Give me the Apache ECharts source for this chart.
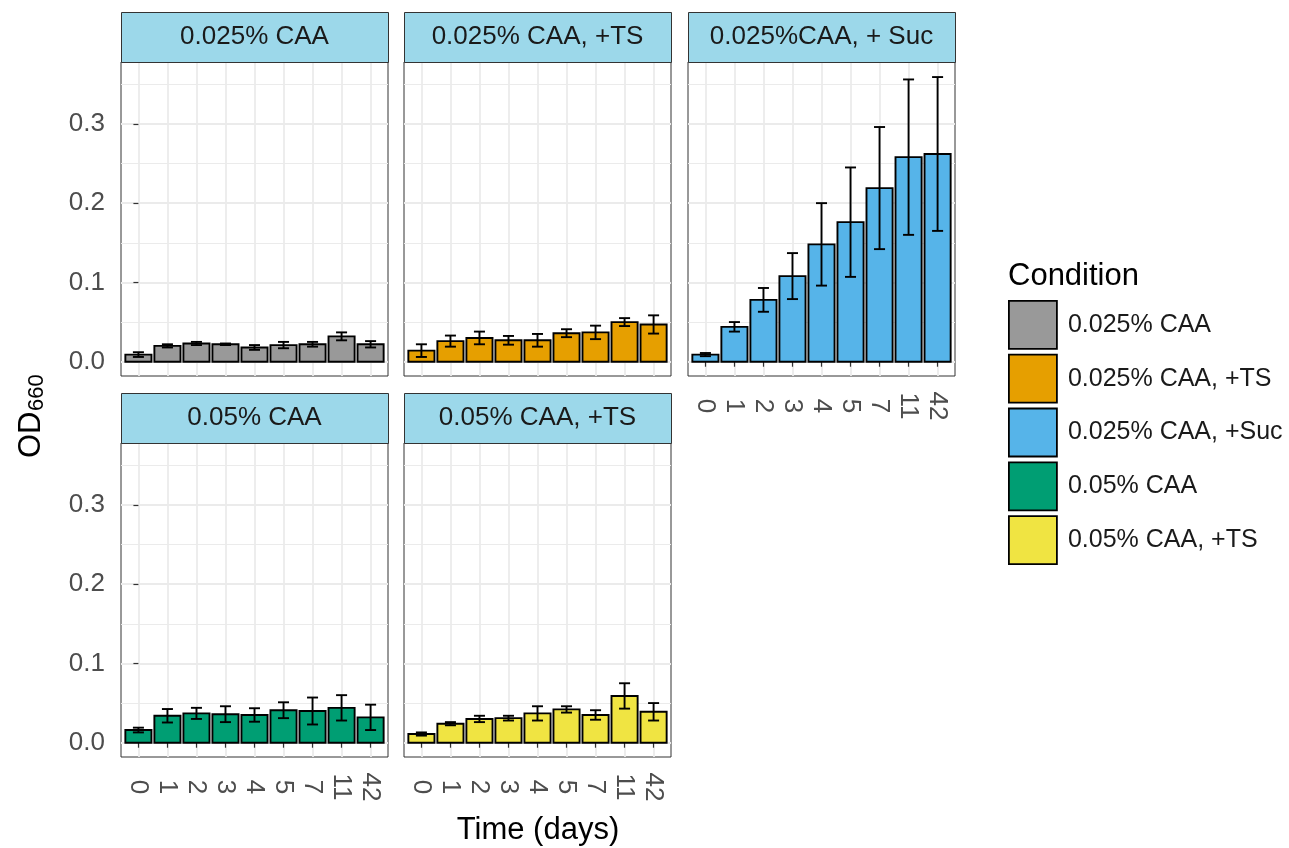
<!DOCTYPE html>
<html>
<head>
<meta charset="utf-8">
<script src="https://cdn.jsdelivr.net/npm/echarts@6/dist/echarts.min.js"></script>
<style>
  html, body { margin: 0; padding: 0; background: #ffffff; }
  #chart { width: 1289px; height: 848px; }
</style>
</head>
<body>
<div id="chart"></div>
<script>
// ---- data -------------------------------------------------------------
const days = ['0', '1', '2', '3', '4', '5', '7', '11', '42'];
const conditions = ['0.025% CAA', '0.025% CAA, +TS', '0.025% CAA, +Suc', '0.05% CAA', '0.05% CAA, +TS'];
const stripLabels = ['0.025% CAA', '0.025% CAA, +TS', '0.025%CAA, + Suc', '0.05% CAA', '0.05% CAA, +TS'];
const yTicks = [0, 0.1, 0.2, 0.3];
const yMinorTicks = [0.05, 0.15, 0.25, 0.35];

// mean OD660 and standard deviation per sampling day
const caa025Mean    = [0.009, 0.020, 0.023, 0.022, 0.018, 0.021, 0.022, 0.032, 0.022];
const caa025Sd      = [0.003, 0.002, 0.002, 0.001, 0.003, 0.004, 0.003, 0.005, 0.004];
const caa025TsMean  = [0.014, 0.026, 0.030, 0.027, 0.027, 0.036, 0.037, 0.050, 0.047];
const caa025TsSd    = [0.008, 0.007, 0.008, 0.0055, 0.008, 0.005, 0.0085, 0.005, 0.0115];
const caa025SucMean = [0.009, 0.044, 0.078, 0.108, 0.148, 0.176, 0.219, 0.258, 0.262];
const caa025SucSd   = [0.002, 0.006, 0.015, 0.029, 0.052, 0.069, 0.077, 0.098, 0.097];
const caa05Mean     = [0.016, 0.034, 0.037, 0.036, 0.035, 0.041, 0.040, 0.044, 0.032];
const caa05Sd       = [0.003, 0.0085, 0.007, 0.010, 0.0085, 0.010, 0.017, 0.016, 0.016];
const caa05TsMean   = [0.011, 0.024, 0.030, 0.031, 0.037, 0.042, 0.035, 0.059, 0.039];
const caa05TsSd     = [0.002, 0.002, 0.004, 0.003, 0.009, 0.004, 0.006, 0.016, 0.011];

const means = [caa025Mean, caa025TsMean, caa025SucMean, caa05Mean, caa05TsMean];
const sds   = [caa025Sd, caa025TsSd, caa025SucSd, caa05Sd, caa05TsSd];

// ---- look -------------------------------------------------------------
const fills = ['#999999', '#E69F00', '#56B4E9', '#009E73', '#F0E442'];
const FONT = '"Liberation Sans", Arial, Helvetica, sans-serif';
const colLeft = [121, 404, 688];
const panelW = 267;
const plotTop = [62, 443];
const plotH = 314;
const stripH = 50;
// panel -> [row, col]
const facet = [[0, 0], [0, 1], [0, 2], [1, 0], [1, 1]];
const Y_MIN = -0.018, Y_MAX = 0.378;
const BAR_W = 0.9, CAP_W = 0.38;
const OUTLINE = 1.9;

function renderBar(params, api) {
  const i = api.value(0), m = api.value(1), e = api.value(2);
  const tl = api.coord([i - BAR_W / 2, m]);
  const br = api.coord([i + BAR_W / 2, 0]);
  const hi = api.coord([i, m + e]);
  const lo = api.coord([i, m - e]);
  const capL = api.coord([i - CAP_W / 2, 0])[0];
  const capR = api.coord([i + CAP_W / 2, 0])[0];
  const line = { stroke: '#000000', lineWidth: OUTLINE };
  return {
    type: 'group',
    children: [
      { type: 'rect', shape: { x: tl[0], y: tl[1], width: br[0] - tl[0], height: br[1] - tl[1] },
        style: { fill: api.visual('color'), stroke: '#000000', lineWidth: OUTLINE } },
      { type: 'line', shape: { x1: hi[0], y1: hi[1], x2: lo[0], y2: lo[1] }, style: line },
      { type: 'line', shape: { x1: capL, y1: hi[1], x2: capR, y2: hi[1] }, style: line },
      { type: 'line', shape: { x1: capL, y1: lo[1], x2: capR, y2: lo[1] }, style: line }
    ]
  };
}

const grids = [], xAxes = [], yAxes = [], series = [], graphics = [];
const gridLine = '#ebebeb';

facet.forEach(([r, c], p) => {
  const left = colLeft[c], top = plotTop[r];
  grids.push({
    left: left, top: top, width: panelW, height: plotH,
    show: true, backgroundColor: '#ffffff', borderColor: '#333333', borderWidth: 1
  });
  const showX = (p >= 2);
  const showY = (c === 0);
  xAxes.push({
    type: 'value', gridIndex: p, min: -0.6, max: 8.6,
    axisLine: { show: false },
    axisTick: { show: showX, customValues: days.map((d, i) => i), length: 5,
                lineStyle: { color: '#333333', width: 1.2 } },
    axisLabel: { show: showX, customValues: days.map((d, i) => i),
                 formatter: v => days[Math.round(v)],
                 rotate: -90, align: 'center', verticalAlign: 'middle', margin: 30,
                 color: '#4d4d4d', fontSize: 26, fontFamily: FONT },
    splitLine: { show: true, lineStyle: { color: gridLine, width: 1.8 } }
  });
  // major y axis: ticks, labels, major grid
  yAxes.push({
    type: 'value', gridIndex: p, min: Y_MIN, max: Y_MAX, position: 'left',
    axisLine: { show: false },
    axisTick: { show: showY, customValues: yTicks, length: 5,
                lineStyle: { color: '#333333', width: 1.2 } },
    axisLabel: { show: showY, customValues: yTicks, formatter: v => v.toFixed(1), margin: 16,
                 color: '#4d4d4d', fontSize: 26, fontFamily: FONT },
    splitLine: { show: true, lineStyle: { color: gridLine, width: 1.8 } }
  });
  // minor y axis: grid lines only
  yAxes.push({
    type: 'value', gridIndex: p, min: Y_MIN, max: Y_MAX, position: 'left',
    axisLine: { show: false },
    axisTick: { show: false, customValues: yMinorTicks },
    axisLabel: { show: false },
    splitLine: { show: true, lineStyle: { color: gridLine, width: 1.1 } }
  });
  series.push({
    type: 'custom', name: conditions[p],
    xAxisIndex: p, yAxisIndex: 2 * p,
    itemStyle: { color: fills[p] },
    renderItem: renderBar,
    encode: { x: 0, y: 1 },
    data: means[p].map((m, i) => [i, m, sds[p][i]]),
    z: 3
  });
  // facet strip
  graphics.push({
    type: 'rect', left: left, top: top - stripH,
    shape: { width: panelW, height: stripH },
    style: { fill: '#9CD8EA', stroke: '#333333', lineWidth: 1 }, z: 10
  });
  graphics.push({
    type: 'text', x: left + panelW / 2, y: top - stripH / 2,
    style: { text: stripLabels[p], fill: '#1a1a1a', fontSize: 26, fontFamily: FONT,
             align: 'center', verticalAlign: 'middle' }, z: 11
  });
});

// y-axis title: OD with subscript 660
graphics.push({
  type: 'group', x: 31, y: 416, rotation: Math.PI / 2, z: 11,
  children: [
    { type: 'text', x: -42, y: 0,
      style: { text: 'OD', fill: '#000000', fontSize: 31, fontFamily: FONT,
               align: 'left', verticalAlign: 'middle' } },
    { type: 'text', x: 5, y: 6,
      style: { text: '660', fill: '#000000', fontSize: 22, fontFamily: FONT,
               align: 'left', verticalAlign: 'middle' } }
  ]
});
// x-axis title
graphics.push({
  type: 'text', x: 538, y: 830, z: 11,
  style: { text: 'Time (days)', fill: '#000000', fontSize: 31, fontFamily: FONT,
           align: 'center', verticalAlign: 'middle' }
});
// legend title
graphics.push({
  type: 'text', x: 1008, y: 276, z: 11,
  style: { text: 'Condition', fill: '#000000', fontSize: 31, fontFamily: FONT,
           align: 'left', verticalAlign: 'middle' }
});

const option = {
  animation: false,
  backgroundColor: '#ffffff',
  grid: grids,
  xAxis: xAxes,
  yAxis: yAxes,
  series: series,
  graphic: graphics,
  legend: {
    orient: 'vertical', left: 1008, top: 300, padding: 0,
    itemWidth: 48, itemHeight: 48, itemGap: 4,
    selectedMode: false,
    data: conditions.map((name, i) => ({
      name: name, icon: 'rect',
      itemStyle: { color: fills[i], borderColor: '#000000', borderWidth: 1.8 }
    })),
    textStyle: { fontSize: 25, fontFamily: FONT, color: '#1a1a1a', padding: [0, 0, 0, 6] }
  }
};

const chart = echarts.init(document.getElementById('chart'), null, { renderer: 'canvas' });
chart.setOption(option);
</script>
</body>
</html>
